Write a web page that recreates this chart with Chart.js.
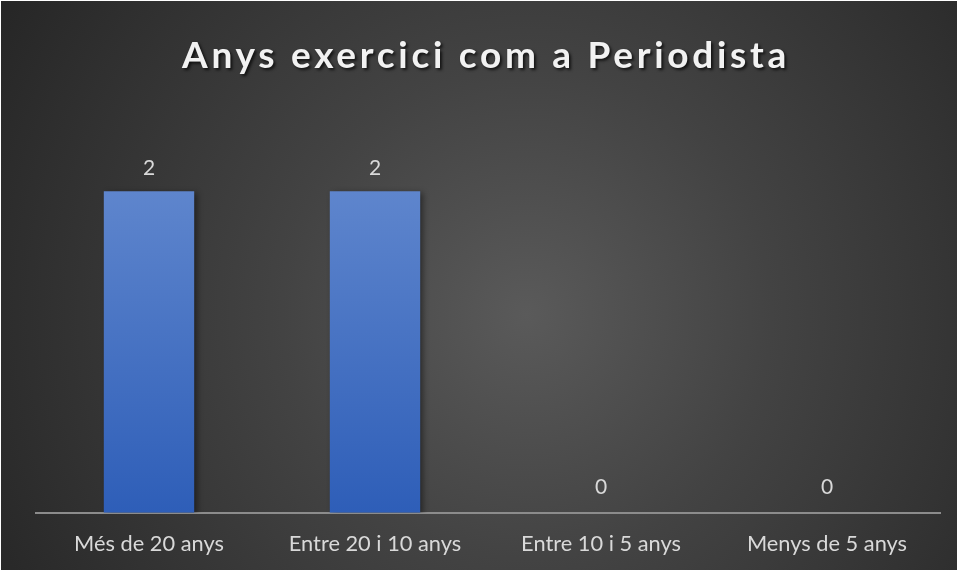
<!DOCTYPE html>
<html>
<head>
<meta charset="utf-8">
<script src="https://cdn.jsdelivr.net/npm/chart.js@4.4.0/dist/chart.umd.min.js"></script>
<style>
html, body { margin: 0; padding: 0; background: #fff; }
#wrap {
  position: absolute; left: 1px; top: 1px; width: 956px; height: 569px;
  background: radial-gradient(circle farthest-corner at 55% 55%, #5a5a5a 0%, #434343 40%, #262626 100%);
}
</style>
</head>
<body>
<div id="wrap"><canvas id="chart"></canvas></div>
<script>
const categories = ['Més de 20 anys', 'Entre 20 i 10 anys', 'Entre 10 i 5 anys', 'Menys de 5 anys'];
const values = [2, 2, 0, 0];
const chartTitle = 'Anys exercici com a Periodista';

// title with letter spacing and shadow
const titlePlugin = {
  id: 'titleDraw',
  afterDraw(chart) {
    const ctx = chart.ctx;
    ctx.save();
    ctx.font = 'bold 37px Lato';
    ctx.letterSpacing = '3.7px';
    ctx.fillStyle = '#f2f2f2';
    ctx.textAlign = 'center';
    ctx.textBaseline = 'middle';
    ctx.shadowColor = 'rgba(0,0,0,0.7)';
    ctx.shadowOffsetX = 2;
    ctx.shadowOffsetY = 2;
    ctx.shadowBlur = 3;
    ctx.fillText(chartTitle, chart.width / 2 + 7, 55);
    ctx.restore();
  }
};

// value labels above bars
const labelPlugin = {
  id: 'valueLabels',
  beforeDatasetsDraw(chart) {
    const ctx = chart.ctx;
    ctx.save();
    ctx.shadowColor = 'rgba(0,0,0,0.45)';
    ctx.shadowOffsetX = 3;
    ctx.shadowOffsetY = 2;
    ctx.shadowBlur = 6;
  },
  afterDatasetsDraw(chart) {
    const ctx = chart.ctx;
    ctx.restore();
    ctx.save();
    ctx.font = '21px Lato';
    ctx.fillStyle = '#d9d9d9';
    ctx.textAlign = 'center';
    ctx.textBaseline = 'middle';
    chart.getDatasetMeta(0).data.forEach((bar, i) => {
      ctx.fillText(String(values[i]), bar.x, bar.y - (values[i] > 0 ? 23 : 26));
    });
    ctx.restore();
  }
};

new Chart(document.getElementById('chart'), {
  type: 'bar',
  data: {
    labels: categories,
    datasets: [{
      data: values,
      backgroundColor: function(context) {
        const area = context.chart.chartArea;
        if (!area) return '#4472c4';
        const g = context.chart.ctx.createLinearGradient(0, area.top, 0, area.bottom);
        g.addColorStop(0, '#6a8fd2');
        g.addColorStop(1, '#2e5eb8');
        return g;
      },
      borderWidth: 0,
      barPercentage: 0.4,
      categoryPercentage: 1
    }]
  },
  options: {
    responsive: true,
    maintainAspectRatio: false,
    animation: false,
    layout: { padding: { top: 110, left: 35, right: 17, bottom: -5 } },
    plugins: {
      legend: { display: false },
      tooltip: { enabled: false }
    },
    scales: {
      y: { display: false, min: 0, max: 2.5 },
      x: {
        grid: { display: false, drawTicks: false },
        border: { display: true, color: '#8c8c8c', width: 2 },
        ticks: {
          color: '#d9d9d9',
          padding: 18,
          font: { family: 'Lato', size: 21.8 }
        }
      }
    }
  },
  plugins: [labelPlugin, titlePlugin]
});
</script>
</body>
</html>
